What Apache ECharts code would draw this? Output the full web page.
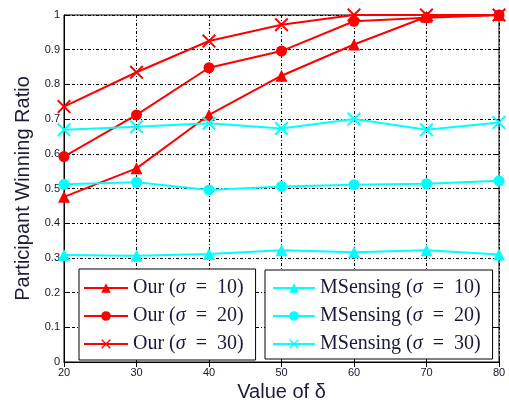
<!DOCTYPE html>
<html>
<head>
<meta charset="utf-8">
<script src="https://cdn.jsdelivr.net/npm/echarts@6/dist/echarts.min.js"></script>
<style>
html,body{margin:0;padding:0;background:#fff;}
#c{width:509px;height:405px;}
</style>
</head>
<body>
<div id="c"></div>
<script>
var deltas = [20, 30, 40, 50, 60, 70, 80];
var our10 = [0.476, 0.558, 0.712, 0.825, 0.915, 0.995, 1.0];
var our20 = [0.592, 0.712, 0.848, 0.896, 0.982, 0.992, 1.0];
var our30 = [0.736, 0.835, 0.925, 0.972, 1.0, 1.0, 1.0];
var ms10 = [0.308, 0.306, 0.311, 0.322, 0.316, 0.322, 0.310];
var ms20 = [0.512, 0.518, 0.496, 0.506, 0.511, 0.514, 0.522];
var ms30 = [0.669, 0.678, 0.688, 0.673, 0.700, 0.669, 0.690];
var seriesNames = ['Our (σ = 10)', 'Our (σ = 20)', 'Our (σ = 30)',
                   'MSensing (σ = 10)', 'MSensing (σ = 20)', 'MSensing (σ = 30)'];
var yTicks = ['0','0.1','0.2','0.3','0.4','0.5','0.6','0.7','0.8','0.9','1'];

var RED = '#ff0000', CYAN = '#00ffff';
var XSYM = 'path://M2,0 L10,8 L18,0 L20,2 L12,10 L20,18 L18,20 L10,12 L2,20 L0,18 L8,10 L0,2 Z';

function pairs(arr){ return deltas.map(function(d,i){ return [d, arr[i]]; }); }
function mk(name, arr, color, sym, size){
  return {
    name: name, type: 'line', data: pairs(arr),
    symbol: sym, symbolSize: size, showSymbol: true,
    lineStyle: {color: color, width: 2},
    itemStyle: {color: color},
    emphasis: {disabled: true},
    animation: false, z: 3
  };
}
var gridDash = [3, 2, 1, 2];
var sans = 'Liberation Sans, Arial, sans-serif';
var labelStyle = {color: '#15152e', fontSize: 11, fontFamily: sans};
var serif = 'Liberation Serif, DejaVu Serif, serif';
function legendCommon(extra){
  return Object.assign({
    orient: 'vertical', borderColor: '#000', borderWidth: 1,
    itemWidth: 44, itemHeight: 12, itemGap: 8,
    textStyle: {fontFamily: serif, fontSize: 20, lineHeight: 19, color: '#1a1a3a',
      rich: {s: {fontStyle: 'italic', fontFamily: serif, fontSize: 20, lineHeight: 19, color: '#1a1a3a'}}},
    formatter: function(n){ return n.replace('σ', '{s|σ}').replace(' = ', '\u2002=\u2002'); },
    backgroundColor: '#fff', selectedMode: false
  }, extra);
}

var chart = echarts.init(document.getElementById('c'), null, {renderer: 'canvas'});
chart.setOption({
  animation: false,
  backgroundColor: '#fff',
  grid: {left: 64, right: 10, top: 15, bottom: 43, show: true, borderColor: '#000', borderWidth: 1,
         containLabel: false, outerBoundsMode: 'none'},
  xAxis: [{
    type: 'value', min: 20, max: 80, interval: 10,
    name: 'Value of δ', nameLocation: 'middle', nameGap: 20,
    nameTextStyle: {fontSize: 20, color: '#1c1c3a', fontFamily: sans},
    axisLine: {lineStyle: {color: '#000'}},
    axisTick: {inside: true, length: 5, lineStyle: {color: '#000'}},
    axisLabel: Object.assign({margin: 5}, labelStyle),
    splitLine: {show: true, lineStyle: {color: '#000', type: gridDash, width: 1}}
  }, {
    type: 'value', position: 'top', min: 20, max: 80, interval: 10,
    axisLine: {show: false}, axisTick: {inside: true, length: 5, lineStyle: {color: '#000'}},
    axisLabel: {show: false}, splitLine: {show: false}
  }],
  yAxis: [{
    type: 'value', min: 0, max: 1, interval: 0.1,
    name: 'Participant Winning Ratio', nameLocation: 'middle', nameGap: 29,
    nameTextStyle: {fontSize: 20, color: '#1c1c3a', fontFamily: sans},
    axisLine: {lineStyle: {color: '#000'}},
    axisTick: {inside: true, length: 5, lineStyle: {color: '#000'}},
    axisLabel: Object.assign({margin: 4, formatter: function(v){ return yTicks[Math.round(v*10)]; }}, labelStyle),
    splitLine: {show: true, lineStyle: {color: '#000', type: gridDash, width: 1}}
  }, {
    type: 'value', position: 'right', min: 0, max: 1, interval: 0.1,
    axisLine: {show: false}, axisTick: {inside: true, length: 5, lineStyle: {color: '#000'}},
    axisLabel: {show: false}, splitLine: {show: false}
  }],
  legend: [
    legendCommon({left: 79, top: 269, padding: [9, 12, 6, 4], data: seriesNames.slice(0, 3)}),
    legendCommon({left: 265, top: 270, itemWidth: 42, padding: [8, 12, 5, 7], data: seriesNames.slice(3)})
  ],
  series: [
    mk(seriesNames[0], our10, RED, 'triangle', 12),
    mk(seriesNames[1], our20, RED, 'circle', 11),
    mk(seriesNames[2], our30, RED, XSYM, 14),
    mk(seriesNames[3], ms10, CYAN, 'triangle', 12),
    mk(seriesNames[4], ms20, CYAN, 'circle', 11),
    mk(seriesNames[5], ms30, CYAN, XSYM, 14)
  ]
});
</script>
</body>
</html>
